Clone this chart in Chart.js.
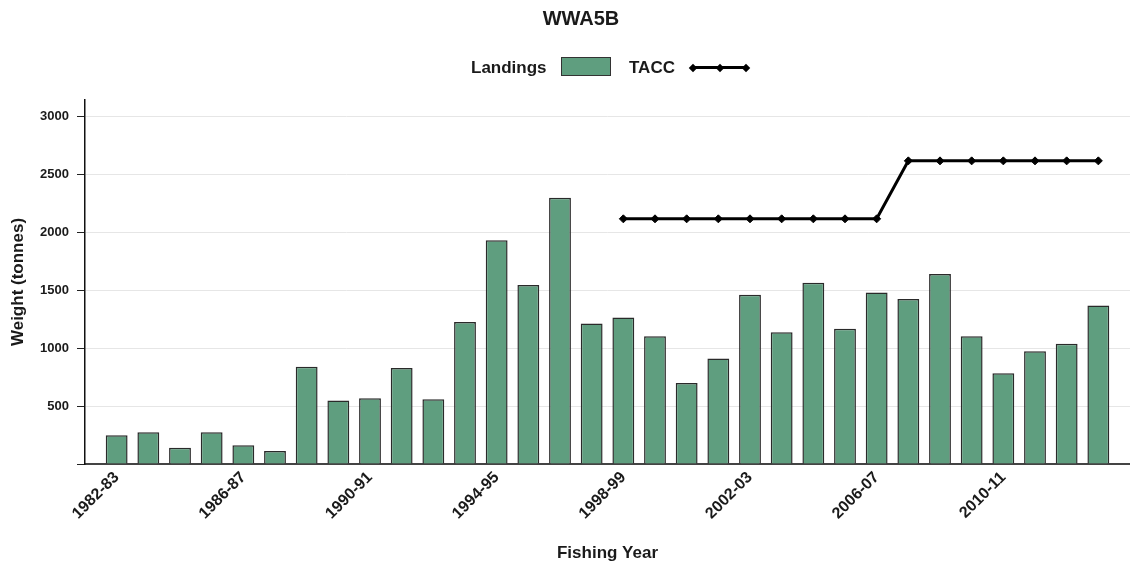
<!DOCTYPE html>
<html>
<head>
<meta charset="utf-8">
<script src="https://cdn.jsdelivr.net/npm/chart.js@4/dist/chart.umd.min.js"></script>
<style>
html,body{margin:0;padding:0;background:#fff;}
#wrap{position:relative;width:1130px;height:568px;font-family:"Liberation Sans",Arial,sans-serif;color:#1a1a1a;}
#chartBox{position:absolute;left:0;top:0;width:1130px;height:568px;}
#title{position:absolute;top:7px;left:0;width:1162px;text-align:center;font-weight:bold;font-size:20px;line-height:normal;}
.lg{position:absolute;font-weight:bold;font-size:17px;line-height:normal;top:58px;white-space:nowrap;}
#lgBox{position:absolute;left:561px;top:57px;width:48px;height:17px;background:#5f9e7f;border:1px solid #333;}
#lgLine{position:absolute;left:693px;top:66px;width:55px;height:3px;background:#000;}
.dia{position:absolute;width:6px;height:6px;background:#000;transform:rotate(45deg);top:64.5px;}
</style>
</head>
<body>
<div id="wrap">
  <div id="chartBox"><canvas id="c"></canvas></div>
  <div id="title">WWA5B</div>
  <div class="lg" style="left:471px;">Landings</div>
  <div id="lgBox"></div>
  <div class="lg" style="left:629px;">TACC</div>
  <div id="lgLine"></div>
  <div class="dia" style="left:690px;"></div>
  <div class="dia" style="left:717px;"></div>
  <div class="dia" style="left:743px;"></div>
</div>
<script>
const categories = ['1982-83','1983-84','1984-85','1985-86','1986-87','1987-88','1988-89','1989-90',
  '1990-91','1991-92','1992-93','1993-94','1994-95','1995-96','1996-97','1997-98',
  '1998-99','1999-00','2000-01','2001-02','2002-03','2003-04','2004-05','2005-06',
  '2006-07','2007-08','2008-09','2009-10','2010-11','2011-12','2012-13','2013-14'];
const landings = [248, 274, 141, 274, 162, 113, 838, 547,
  567, 829, 558, 1224, 1930, 1545, 2297, 1213,
  1264, 1103, 698, 911, 1461, 1137, 1563, 1167,
  1480, 1423, 1638, 1101, 782, 973, 1037, 1368];
const tacc = [null, null, null, null, null, null, null, null,
  null, null, null, null, null, null, null, null,
  2115, 2115, 2115, 2115, 2115, 2115, 2115, 2115,
  2115, 2615, 2615, 2615, 2615, 2615, 2615, 2615];
const xTickLabels = ['1982-83','1986-87','1990-91','1994-95','1998-99','2002-03','2006-07','2010-11'];
const yTicks = [0, 500, 1000, 1500, 2000, 2500, 3000];

const FONT = '"Liberation Sans", Arial, sans-serif';

new Chart(document.getElementById('c'), {
  type: 'bar',
  data: {
    datasets: [
      {
        type: 'line',
        label: 'TACC',
        data: tacc.map((v, i) => ({x: i, y: v})),
        borderColor: '#000',
        borderWidth: 3,
        backgroundColor: '#000',
        pointStyle: 'rectRot',
        pointRadius: 4,
        pointBackgroundColor: '#000',
        pointBorderColor: '#000',
        pointBorderWidth: 1,
        tension: 0,
        fill: false,
        order: 0
      },
      {
        type: 'bar',
        label: 'Landings',
        data: landings.map((v, i) => ({x: i, y: v})),
        backgroundColor: '#5f9e7f',
        borderColor: '#2a2a2a',
        borderWidth: 1.5,
        borderSkipped: 'bottom',
        barPercentage: 0.69,
        categoryPercentage: 1.0,
        order: 1
      }
    ]
  },
  options: {
    responsive: true,
    maintainAspectRatio: false,
    animation: false,
    layout: {autoPadding: false, padding: {top: 100, left: 0, right: 0, bottom: 0}},
    plugins: {
      legend: {display: false},
      title: {display: false},
      tooltip: {enabled: false}
    },
    scales: {
      x: {
        type: 'linear',
        min: -1,
        max: 32,
        offset: false,
        grid: {display: false, drawTicks: false, offset: false},
        border: {display: true, color: '#444', width: 2},
        ticks: {
          autoSkip: false,
          minRotation: 45,
          maxRotation: 45,
          padding: 4,
          color: '#1a1a1a',
          font: {family: FONT, size: 16, weight: 'bold'},
          callback: (v) => categories[v] || ''
        },
        afterBuildTicks: (scale) => {
          scale.ticks = xTickLabels.map(l => ({value: categories.indexOf(l)}));
        },
        afterFit: (scale) => {
          scale.height = 104;
          scale.paddingLeft = 0; scale.paddingRight = 0;
        },
        title: {
          display: true,
          text: 'Fishing Year',
          color: '#1a1a1a',
          font: {family: FONT, size: 17, weight: 'bold'},
          padding: {top: 4, bottom: 4}
        }
      },
      y: {
        type: 'linear',
        min: 0,
        max: 3140,
        grid: {
          color: (ctx) => (ctx.tick && ctx.tick.value === 0) ? 'rgba(0,0,0,0)' : '#e6e6e6',
          lineWidth: 1,
          tickColor: '#222',
          tickLength: 8,
          drawTicks: true
        },
        border: {display: true, color: '#111', width: 1.5},
        ticks: {
          padding: 8,
          color: '#1a1a1a',
          font: {family: FONT, size: 13, weight: 'bold'},
          callback: (v) => v === 0 ? '' : String(v)
        },
        afterBuildTicks: (scale) => {
          scale.ticks = yTicks.map(v => ({value: v}));
        },
        afterFit: (scale) => {
          scale.width = 85;
          scale.paddingTop = 0; scale.paddingBottom = 0;
        },
        title: {
          display: true,
          text: 'Weight (tonnes)',
          color: '#1a1a1a',
          font: {family: FONT, size: 17, weight: 'bold'},
          padding: {top: 8, bottom: 4}
        }
      }
    }
  }
});
</script>
</body>
</html>
